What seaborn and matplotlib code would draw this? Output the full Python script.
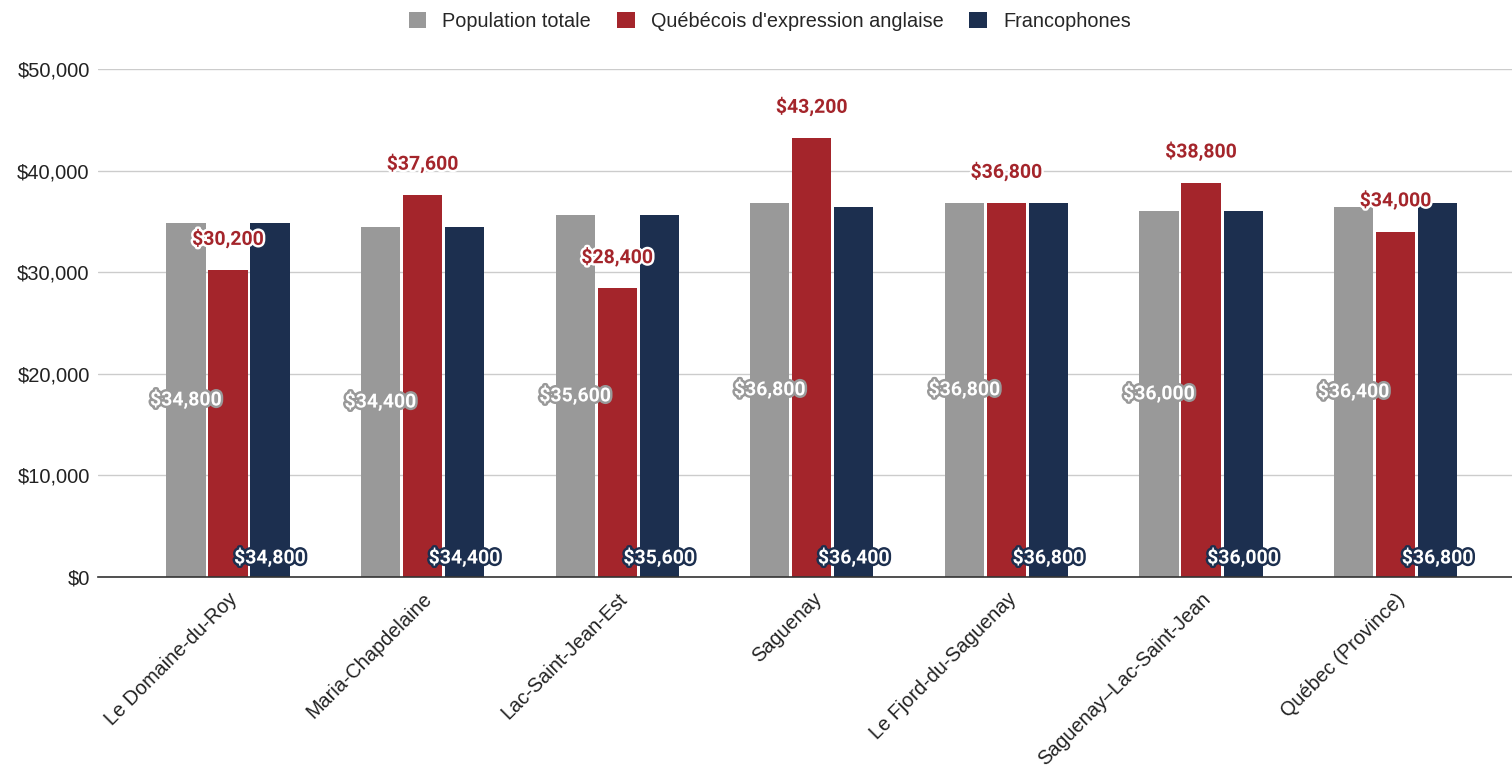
import matplotlib
matplotlib.use("Agg")
import matplotlib.pyplot as plt
import matplotlib.patheffects as pe
from matplotlib.patches import Patch
from matplotlib.ticker import FuncFormatter, MultipleLocator
import seaborn as sns
import pandas as pd

regions = ["Le Domaine-du-Roy", "Maria-Chapdelaine", "Lac-Saint-Jean-Est", "Saguenay",
           "Le Fjord-du-Saguenay", "Saguenay–Lac-Saint-Jean", "Québec (Province)"]
series = ["Population totale", "Québécois d'expression anglaise", "Francophones"]
pop_totale = [34800, 34400, 35600, 36800, 36800, 36000, 36400]
anglais = [30200, 37600, 28400, 43200, 36800, 38800, 34000]
francophones = [34800, 34400, 35600, 36400, 36800, 36000, 36800]
colors = ["#999999", "#a4252b", "#1c2f4f"]

rows = []
for vals, s in zip([pop_totale, anglais, francophones], series):
    for r, v in zip(regions, vals):
        rows.append({"Région": r, "Série": s, "Revenu": v})
df = pd.DataFrame(rows)

sns.set_theme(style="white")
plt.rcParams['font.family'] = ['Liberation Sans', 'DejaVu Sans']

fig = plt.figure(figsize=(15.12, 7.67), dpi=100)
ax = fig.add_axes([98/1512, 1-577/767, 1-98/1512, (577-69)/767])

sns.barplot(data=df, x="Région", y="Revenu", hue="Série", order=regions, hue_order=series,
            palette=colors, width=0.648, gap=0.07, ax=ax, legend=False, saturation=1,
            edgecolor="none", linewidth=0)

ax.set_ylim(0, 50000)
ax.set_xlim(-0.668, 6.598)
ax.yaxis.set_major_locator(MultipleLocator(10000))
ax.yaxis.set_major_formatter(FuncFormatter(lambda v, p: f"${v:,.0f}"))
ax.grid(axis="y", color="#cccccc", linewidth=1)
ax.set_axisbelow(True)
for s in ["top", "right", "left"]:
    ax.spines[s].set_visible(False)
ax.spines["bottom"].set_color("#333333")
ax.spines["bottom"].set_linewidth(1.2)
ax.set_xlabel("")
ax.set_ylabel("")
ax.tick_params(axis="y", labelsize=14.5, colors="#222222", length=0, pad=6)
ax.tick_params(axis="x", labelsize=14.3, colors="#222222", length=0, pad=9)
plt.setp(ax.get_xticklabels(), rotation=45, ha="right", rotation_mode="anchor")

lab_font = dict(family=["Roboto", "DejaVu Sans"], fontweight="bold", fontsize=14)
for cont, s, col in zip(ax.containers, series, colors):
    for bar in cont:
        h = bar.get_height()
        xc = bar.get_x() + bar.get_width() / 2
        txt = f"${h:,.0f}"
        if s == series[0]:
            ax.text(xc, h / 2, txt, ha="center", va="center", color="white",
                    path_effects=[pe.withStroke(linewidth=3.5, foreground=col)], zorder=5, **lab_font)
        elif s == series[1]:
            ax.annotate(txt, (xc, h), xytext=(0, 22), textcoords="offset points",
                        ha="center", va="center", color=col,
                        path_effects=[pe.withStroke(linewidth=3.5, foreground="white")], zorder=5, **lab_font)
        else:
            ax.annotate(txt, (xc, 0), xytext=(0, 13.5), textcoords="offset points",
                        ha="center", va="center", color="white",
                        path_effects=[pe.withStroke(linewidth=3.5, foreground=col)], zorder=5, **lab_font)

handles = [Patch(facecolor=c, edgecolor="none") for c in colors]
fig.legend(handles, series, loc="upper center", bbox_to_anchor=(0.509, 1.008), ncol=3, frameon=False,
           fontsize=14.3, handlelength=0.9, handleheight=0.9, columnspacing=1.3, handletextpad=0.8)

fig.savefig("out.png", dpi=100)
